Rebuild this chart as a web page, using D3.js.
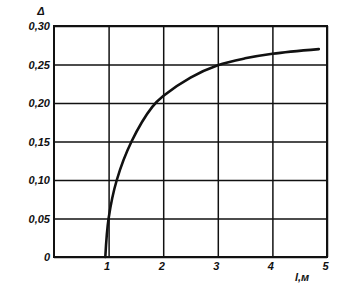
<!DOCTYPE html>
<html><head><meta charset="utf-8">
<script src="https://cdn.jsdelivr.net/npm/d3@7"></script>
<style>
body{margin:0;background:#fff;}
text{font-family:"Liberation Sans",Arial,sans-serif;font-style:italic;font-weight:bold;fill:#111;}
</style></head>
<body><svg id="c" width="337" height="287"></svg>
<script>
const curveL = [0.94, 1.0, 1.15, 1.42, 1.8, 2.0, 2.5, 3.0, 3.5, 4.0, 4.85];
const curveD = [0.0, 0.05, 0.10, 0.15, 0.195, 0.209, 0.233, 0.249, 0.258, 0.264, 0.270];
const xTicks = [1, 2, 3, 4, 5];
const yTicks = [0, 0.05, 0.10, 0.15, 0.20, 0.25, 0.30];
const yTickLabels = ["0", "0,05", "0,10", "0,15", "0,20", "0,25", "0,30"];

const svg = d3.select("#c");
const m = {l:54, r:327, t:26, b:257};
const x = d3.scaleLinear().domain([0,5]).range([m.l, m.r]);
const y = d3.scaleLinear().domain([0,0.30]).range([m.b, m.t]);
const W = m.r - m.l, H = m.b - m.t;

const ya = svg.append("g").attr("transform", `translate(${m.l},0)`)
  .call(d3.axisLeft(y).tickValues(yTicks).tickSizeInner(-W).tickSizeOuter(0).tickPadding(4)
    .tickFormat((d,i)=>yTickLabels[i]));
ya.select(".domain").remove();
ya.selectAll("line").attr("stroke","#111").attr("stroke-width",1.5);
ya.selectAll("text").attr("font-size",11).style("font-family","'Liberation Sans',Arial,sans-serif");

const xa = svg.append("g").attr("transform", `translate(0,${m.b})`)
  .call(d3.axisBottom(x).tickValues(xTicks).tickSizeInner(-H).tickSizeOuter(0).tickPadding(5)
    .tickFormat(d3.format("d")));
xa.select(".domain").remove();
xa.selectAll("line").attr("stroke","#111").attr("stroke-width",1.5);
xa.selectAll("text").attr("font-size",11).attr("dx",-2).style("font-family","'Liberation Sans',Arial,sans-serif");

svg.append("rect").attr("x",m.l).attr("y",m.t).attr("width",W).attr("height",H)
  .attr("fill","none").attr("stroke","#111").attr("stroke-width",2);

const pts = curveL.map((l,i)=>[l, curveD[i]]);
svg.append("path").datum(pts)
  .attr("d", d3.line().x(d=>x(d[0])).y(d=>y(d[1])).curve(d3.curveCatmullRom.alpha(0.5)))
  .attr("fill","none").attr("stroke","#111").attr("stroke-width",2.6).attr("stroke-linecap","round");

svg.append("text").attr("x",41).attr("y",15).attr("text-anchor","middle").attr("font-size",11).text("Δ");
svg.append("text").attr("x",302).attr("y",281).attr("text-anchor","middle").attr("font-size",11).text("l,м");
</script></body></html>
